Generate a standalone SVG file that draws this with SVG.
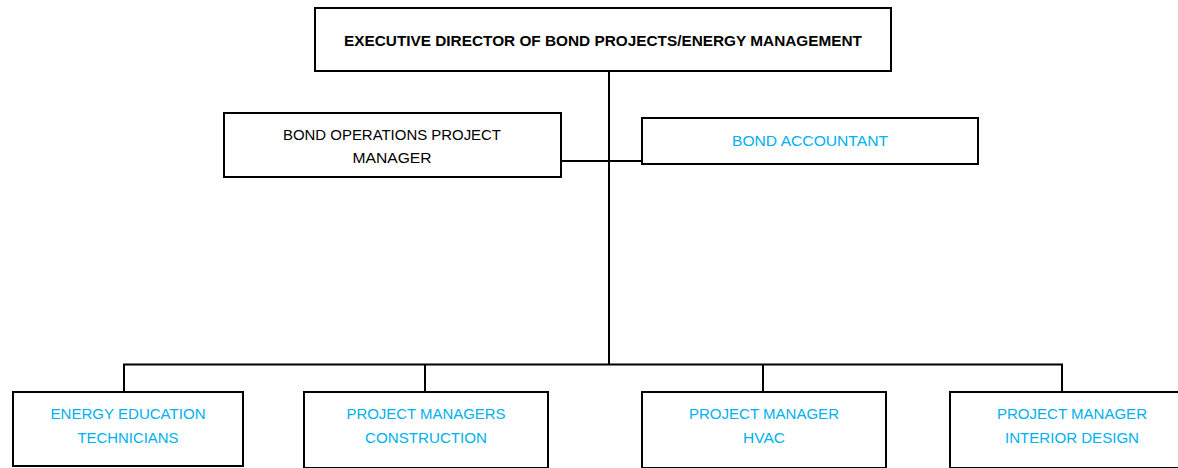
<svg xmlns="http://www.w3.org/2000/svg" width="1178" height="468" viewBox="0 0 1178 468">
  <style>
    .box { fill: #ffffff; stroke: #000000; stroke-width: 2; }
    .t { font-family: "Liberation Sans", Arial, sans-serif; font-size: 15px; text-anchor: middle; }
    .dark { fill: #000000; }
    .blue { fill: #00B0F0; }
    .bold { font-weight: bold; }
    .conn { fill: none; stroke: #000000; stroke-width: 2; }
  </style>
  <rect x="0" y="0" width="1178" height="468" fill="#ffffff"/>
  <g id="connectors">
    <line class="conn" x1="609" y1="71" x2="609" y2="365"/>
    <line class="conn" x1="561" y1="161" x2="642" y2="161"/>
    <polyline class="conn" points="124,392 124,364.5 1062,364.5 1062,392"/>
    <line class="conn" x1="425" y1="364.5" x2="425" y2="392"/>
    <line class="conn" x1="763" y1="364.5" x2="763" y2="392"/>
  </g>
  <g id="node-exec">
    <rect class="box" x="315" y="8" width="576" height="63"/>
    <text class="t dark bold" x="603" y="46" textLength="518" lengthAdjust="spacingAndGlyphs">EXECUTIVE DIRECTOR OF BOND PROJECTS/ENERGY MANAGEMENT</text>
  </g>
  <g id="node-bond-ops">
    <rect class="box" x="224" y="113" width="337" height="64"/>
    <text class="t dark" x="392" y="139.5" textLength="218" lengthAdjust="spacingAndGlyphs">BOND OPERATIONS PROJECT</text>
    <text class="t dark" x="392" y="162.5" textLength="79" lengthAdjust="spacingAndGlyphs">MANAGER</text>
  </g>
  <g id="node-bond-accountant">
    <rect class="box" x="642" y="118" width="336" height="46"/>
    <text class="t blue" x="810" y="145.5" textLength="156" lengthAdjust="spacingAndGlyphs">BOND ACCOUNTANT</text>
  </g>
  <g id="node-energy-education">
    <rect class="box" x="13" y="392" width="230" height="74"/>
    <text class="t blue" x="128" y="419" textLength="155" lengthAdjust="spacingAndGlyphs">ENERGY EDUCATION</text>
    <text class="t blue" x="128" y="442.5" textLength="101" lengthAdjust="spacingAndGlyphs">TECHNICIANS</text>
  </g>
  <g id="node-pm-construction">
    <rect class="box" x="304" y="392" width="244" height="76"/>
    <text class="t blue" x="426" y="419" textLength="159" lengthAdjust="spacingAndGlyphs">PROJECT MANAGERS</text>
    <text class="t blue" x="426" y="442.5" textLength="122" lengthAdjust="spacingAndGlyphs">CONSTRUCTION</text>
  </g>
  <g id="node-pm-hvac">
    <rect class="box" x="642" y="392" width="244" height="76"/>
    <text class="t blue" x="764" y="419" textLength="150" lengthAdjust="spacingAndGlyphs">PROJECT MANAGER</text>
    <text class="t blue" x="764" y="442.5" textLength="42" lengthAdjust="spacingAndGlyphs">HVAC</text>
  </g>
  <g id="node-pm-interior">
    <rect class="box" x="950" y="392" width="245" height="76"/>
    <text class="t blue" x="1072" y="419" textLength="150" lengthAdjust="spacingAndGlyphs">PROJECT MANAGER</text>
    <text class="t blue" x="1072" y="442.5" textLength="134" lengthAdjust="spacingAndGlyphs">INTERIOR DESIGN</text>
  </g>
</svg>
